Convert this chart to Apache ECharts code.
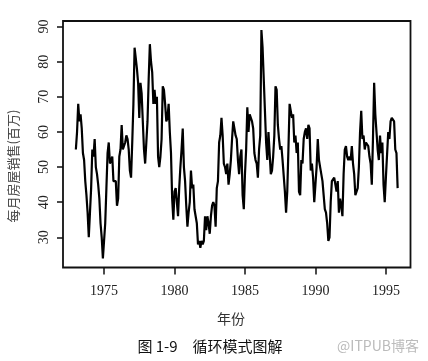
<!DOCTYPE html>
<html><head><meta charset="utf-8">
<script src="https://cdn.jsdelivr.net/npm/echarts@6/dist/echarts.min.js"></script>
<style>html,body{margin:0;padding:0;background:#fff}#c{width:428px;height:361px}</style>
</head><body><div id="c"></div>
<script>
const startYear = 1973;
const sales = [
 55,60,68,63,65,61,54,52,46,42,37,30,
 37,44,55,53,58,50,48,45,41,34,30,24,
 29,34,44,54,57,51,51,53,46,46,46,39,
 41,53,55,62,55,56,57,59,58,55,49,47,
 57,68,84,81,78,74,64,74,71,63,55,51,
 57,63,75,85,80,77,68,72,68,70,53,50,
 53,58,73,72,68,63,64,68,60,54,41,35,
 43,44,44,36,44,50,55,61,50,46,39,33,
 37,40,49,44,45,38,36,34,28,29,27,29,
 28,29,36,32,36,34,31,36,39,40,39,33,
 44,46,57,59,64,59,51,50,48,51,45,48,
 52,58,63,61,59,58,52,48,53,55,42,38,
 48,55,67,60,65,65,63,61,54,52,51,47,
 55,59,89,84,75,66,57,52,60,54,48,49,
 53,59,73,72,62,58,55,56,52,52,43,37,
 43,55,68,68,64,65,57,59,54,57,43,42,
 52,51,58,60,61,58,62,61,49,51,47,40,
 45,50,58,52,50,50,46,46,38,37,34,29,
 30,40,46,46,47,47,43,46,37,41,39,36,
 48,55,56,53,52,53,52,56,51,48,42,42,
 44,50,60,66,58,59,55,57,57,56,53,51,
 45,58,74,65,65,55,52,59,54,57,45,40,
 47,47,60,58,63,64,64,63,55,54,44
];
const xTicks = [1975,1980,1985,1990,1995];
const yTicks = [30,40,50,60,70,80,90];
const yTitle = '每月房屋销售(百万)';
const xTitle = '年份';
const caption = '图 1-9　循环模式图解';
const watermark = '@ITPUB博客';

const pts = sales.map((v,i)=>[startYear + i/12, v]);
const xr = [startYear, startYear + (sales.length-1)/12];
const xpad = (xr[1]-xr[0])*0.04;
const ymin = Math.min(...sales), ymax = Math.max(...sales);
const ypad = (ymax-ymin)*0.04;

const serif = '"Liberation Serif","DejaVu Serif",serif';
const chart = echarts.init(document.getElementById('c'), null, {renderer:'canvas'});
chart.setOption({
  animation:false,
  backgroundColor:'#fff',
  grid:{left:63,right:17.5,top:21,bottom:93.5,show:true,borderColor:'#111',borderWidth:1.8,backgroundColor:'transparent'},
  xAxis:{type:'value',min:xr[0]-xpad,max:xr[1]+xpad,
    axisLine:{show:false},splitLine:{show:false},
    axisTick:{show:true,inside:false,length:7,lineStyle:{color:'#111',width:1.5},customValues:xTicks},
    axisLabel:{show:true,margin:17,color:'#222',fontFamily:serif,fontSize:14,customValues:xTicks,formatter:v=>String(v)}
  },
  yAxis:{type:'value',min:ymin-ypad,max:ymax+ypad,
    axisLine:{show:false},splitLine:{show:false},
    axisTick:{show:true,inside:false,length:6,lineStyle:{color:'#111',width:1.5},customValues:yTicks},
    axisLabel:{show:true,margin:12,rotate:90,color:'#222',fontFamily:serif,fontSize:14,customValues:yTicks,formatter:v=>String(v)}
  },
  series:[{type:'line',data:pts,showSymbol:false,lineStyle:{color:'#000',width:2.2},silent:true}],
  graphic:[
    {type:'text',x:13,y:166,rotation:Math.PI/2,style:{text:yTitle,fill:'#444',font:'13px "Noto Sans CJK SC"',align:'center',verticalAlign:'middle'}},
    {type:'text',x:231,y:319,style:{text:xTitle,fill:'#333',font:'14px "Noto Sans CJK SC"',align:'center',verticalAlign:'middle'}},
    {type:'text',x:210,y:346,style:{text:caption,fill:'#111',font:'15px "Noto Sans CJK SC"',align:'center',verticalAlign:'middle'}},
    {type:'text',x:378,y:346,style:{text:watermark,fill:'#bbb',font:'14px "Noto Sans CJK SC"',align:'center',verticalAlign:'middle'}}
  ]
});
</script></body></html>
